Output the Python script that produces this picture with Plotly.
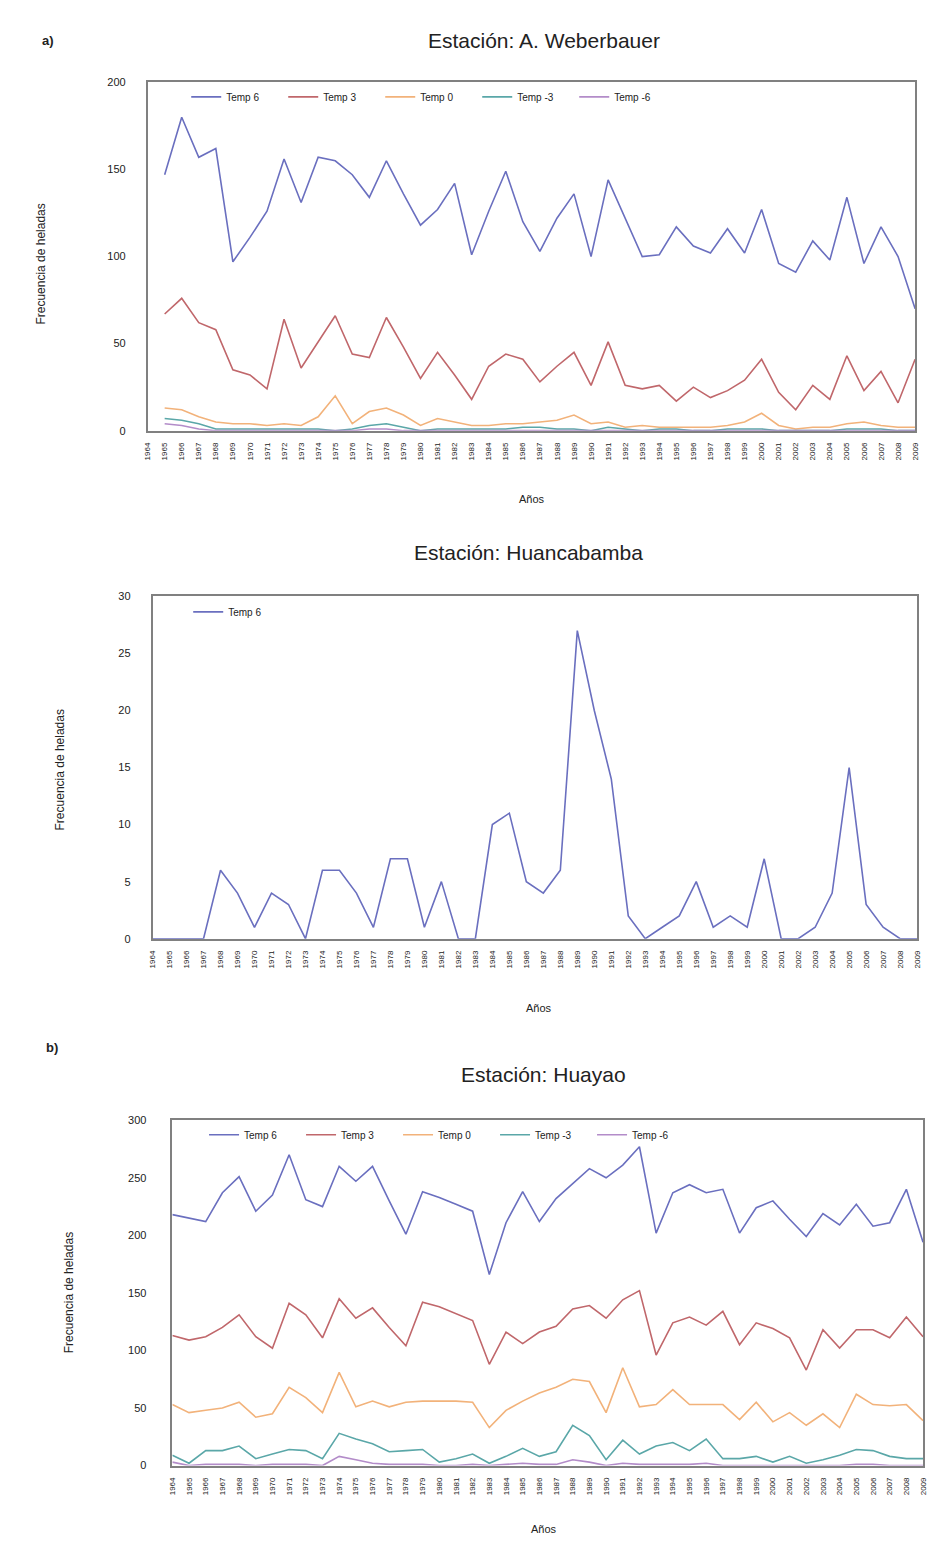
import plotly.graph_objects as go

years = list(range(1964, 2010))
year_labels = [str(y) for y in years]
series_names = ["Temp 6", "Temp 3", "Temp 0", "Temp -3", "Temp -6"]
series_colors = ["#6a6fbf", "#c0676b", "#f2b27a", "#5aa7a8", "#b38cc9"]

# A. Weberbauer (1964 without data)
weber_t6 = [None, 147, 180, 157, 162, 97, 111, 126, 156, 131, 157, 155, 147, 134, 155, 136,
            118, 127, 142, 101, 126, 149, 120, 103, 122, 136, 100, 144, 122, 100, 101,
            117, 106, 102, 116, 102, 127, 96, 91, 109, 98, 134, 96, 117, 100, 70]
weber_t3 = [None, 67, 76, 62, 58, 35, 32, 24, 64, 36, 51, 66, 44, 42, 65, 48,
            30, 45, 32, 18, 37, 44, 41, 28, 37, 45, 26, 51, 26, 24, 26,
            17, 25, 19, 23, 29, 41, 22, 12, 26, 18, 43, 23, 34, 16, 41]
weber_t0 = [None, 13, 12, 8, 5, 4, 4, 3, 4, 3, 8, 20, 4, 11, 13, 9,
            3, 7, 5, 3, 3, 4, 4, 5, 6, 9, 4, 5, 2, 3, 2,
            2, 2, 2, 3, 5, 10, 3, 1, 2, 2, 4, 5, 3, 2, 2]
weber_tm3 = [None, 7, 6, 4, 1, 1, 1, 1, 1, 1, 1, 0, 1, 3, 4, 2,
             0, 1, 1, 1, 1, 1, 2, 2, 1, 1, 0, 2, 1, 0, 1,
             1, 0, 0, 1, 1, 1, 0, 0, 0, 0, 1, 1, 1, 0, 0]
weber_tm6 = [None, 4, 3, 1, 0, 0, 0, 0, 0, 0, 0, 0, 0, 1, 1, 0,
             0, 0, 0, 0, 0, 0, 0, 0, 0, 0, 0, 0, 0, 0, 0,
             0, 0, 0, 0, 0, 0, 0, 0, 0, 0, 0, 0, 0, 0, 0]

# Huancabamba
huanca_t6 = [0, 0, 0, 0, 6, 4, 1, 4, 3, 0, 6, 6, 4, 1, 7, 7, 1, 5, 0, 0, 10, 11, 5, 4, 6,
             27, 20, 14, 2, 0, 1, 2, 5, 1, 2, 1, 7, 0, 0, 1, 4, 15, 3, 1, 0, 0]

# Huayao
huayao_t6 = [218, 215, 212, 237, 251, 221, 235, 270, 231, 225, 260, 247, 260, 230, 201, 238,
             233, 227, 221, 166, 211, 238, 212, 232, 245, 258, 250, 261, 277, 202, 237,
             244, 237, 240, 202, 224, 230, 214, 199, 219, 209, 227, 208, 211, 240, 194]
huayao_t3 = [113, 109, 112, 120, 131, 112, 102, 141, 131, 111, 145, 128, 137, 120, 104, 142,
             138, 132, 126, 88, 116, 106, 116, 121, 136, 139, 128, 144, 152, 96, 124,
             129, 122, 134, 105, 124, 119, 111, 83, 118, 102, 118, 118, 111, 129, 112]
huayao_t0 = [53, 46, 48, 50, 55, 42, 45, 68, 59, 46, 81, 51, 56, 51, 55, 56,
             56, 56, 55, 33, 48, 56, 63, 68, 75, 73, 46, 85, 51, 53, 66,
             53, 53, 53, 40, 55, 38, 46, 35, 45, 33, 62, 53, 52, 53, 39]
huayao_tm3 = [9, 2, 13, 13, 17, 6, 10, 14, 13, 6, 28, 23, 19, 12, 13, 14,
              3, 6, 10, 2, 8, 15, 8, 12, 35, 26, 5, 22, 10, 17, 20,
              13, 23, 6, 6, 8, 3, 8, 2, 5, 9, 14, 13, 8, 6, 6]
huayao_tm6 = [3, 0, 1, 1, 1, 0, 1, 1, 1, 0, 8, 5, 2, 1, 1, 1,
              0, 0, 1, 0, 1, 2, 1, 1, 5, 3, 0, 2, 1, 1, 1,
              1, 2, 0, 0, 0, 0, 0, 0, 0, 0, 1, 1, 0, 0, 0]

W, H = 932, 1544
FONT = "Liberation Sans, Arial, sans-serif"

def px(x):
    return x / W

def py(y):
    return 1 - y / H

fig = go.Figure()

panels = [
    dict(xa="x", ya="y", legend="legend",
         data=[weber_t6, weber_t3, weber_t0, weber_tm3, weber_tm6],
         xdom=(145, 920), ydom=(428, 77), yrange=[0, 200], dtick=50, standoff=18),
    dict(xa="x2", ya="y2", legend="legend2",
         data=[huanca_t6],
         xdom=(150, 922), ydom=(940, 595), yrange=[0, 30], dtick=5, standoff=18),
    dict(xa="x3", ya="y3", legend="legend3",
         data=[huayao_t6, huayao_t3, huayao_t0, huayao_tm3, huayao_tm6],
         xdom=(170, 928), ydom=(1471, 1123), yrange=[0, 300], dtick=50, standoff=22),
]

for i, p in enumerate(panels):
    for j, vals in enumerate(p["data"]):
        fig.add_trace(go.Scatter(
            x=years, y=vals, mode="lines", name=series_names[j],
            line=dict(color=series_colors[j], width=1.6),
            xaxis=p["xa"], yaxis=p["ya"], legend=p["legend"],
            connectgaps=False,
        ))
    sfx = "" if i == 0 else str(i + 1)
    fig.update_layout(**{
        "xaxis" + sfx: dict(
            domain=[px(p["xdom"][0]), px(p["xdom"][1])],
            anchor="y" + sfx, range=[1964, 2009],
            tickmode="array", tickvals=years, ticktext=year_labels,
            tickangle=-90, tickfont=dict(size=8, color="#222", family=FONT),
            showline=True, mirror=True, linecolor="#808080", linewidth=1.5,
            showgrid=False, zeroline=False, ticks="", ticklabelstandoff=7,
        ),
        "yaxis" + sfx: dict(
            domain=[py(p["ydom"][0]), py(p["ydom"][1])],
            anchor="x" + sfx, range=p["yrange"], dtick=p["dtick"],
            tickfont=dict(size=11, color="#222", family=FONT),
            showline=True, mirror=True, linecolor="#808080", linewidth=1.5,
            showgrid=False, zeroline=False, ticks="",
            ticklabelstandoff=p["standoff"],
        ),
    })

legend_common = dict(orientation="h", xanchor="left", yanchor="top",
                     bgcolor="rgba(0,0,0,0)", font=dict(size=10, color="#222", family=FONT),
                     itemwidth=30, entrywidth=52, entrywidthmode="pixels",
                     tracegroupgap=0)
fig.update_layout(
    legend=dict(x=px(184), y=py(77), **legend_common),
    legend2=dict(x=px(186), y=py(596), **legend_common),
    legend3=dict(x=px(202), y=py(1123), **legend_common),
)

annotations = [
    dict(text="Estación: A. Weberbauer", x=px(545), y=py(35), size=21),
    dict(text="Estación: Huancabamba", x=px(530), y=py(551), size=21),
    dict(text="Estación: Huayao", x=px(545), y=py(1077), size=21),
    dict(text="<b>a)</b>", x=px(44), y=py(35), size=13),
    dict(text="<b>b)</b>", x=px(48), y=py(1050), size=13),
    dict(text="Años", x=px(533), y=py(497), size=11),
    dict(text="Años", x=px(540), y=py(1010), size=11),
    dict(text="Años", x=px(545), y=py(1535), size=11),
]
for a in annotations:
    fig.add_annotation(text=a["text"], x=a["x"], y=a["y"], xref="paper", yref="paper",
                       showarrow=False, xanchor="center", yanchor="middle",
                       font=dict(size=a["size"], color="#222", family=FONT))

for (x, y) in [(37, 260), (57, 770), (66, 1297)]:
    fig.add_annotation(text="Frecuencia de heladas", x=px(x), y=py(y),
                       xref="paper", yref="paper", showarrow=False, textangle=-90,
                       xanchor="center", yanchor="middle",
                       font=dict(size=12, color="#222", family=FONT))

fig.update_layout(
    width=W, height=H, margin=dict(l=0, r=0, t=0, b=0),
    paper_bgcolor="white", plot_bgcolor="white",
    font=dict(family=FONT),
)

fig.write_html("out.html")
